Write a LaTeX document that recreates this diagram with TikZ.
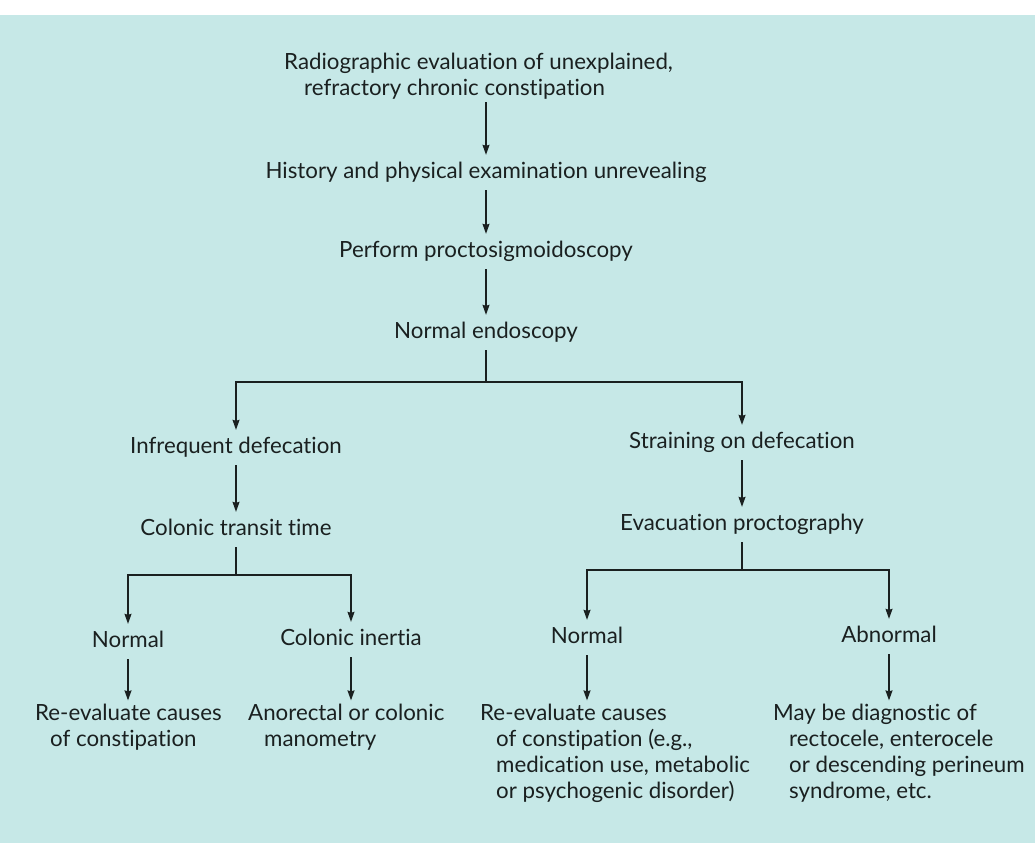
\documentclass[tikz,border=0pt]{standalone}
\usepackage{fontspec}
\setmainfont{Lato}[Ligatures=NoCommon]
\usepackage{tikz}
\usetikzlibrary{arrows.meta, positioning, calc}
\definecolor{panelcyan}{RGB}{198,232,231}
\definecolor{inkgray}{RGB}{26,32,32}
\newcommand{\flowfont}{\fontsize{22.3}{26}\selectfont}
\tikzset{
    stepbox/.style={align=center, font=\flowfont, text=inkgray, inner xsep=4pt, inner ysep=7pt, text height=16pt, text depth=5pt, anchor=base},
    listbox/.style={align=left, font=\flowfont, text=inkgray, inner xsep=0pt, inner ysep=3pt, anchor=base west},
    link/.style={line width=1.2pt, draw=inkgray},
    arrow/.style={link, -{Stealth[length=10pt, width=7pt, inset=1pt]}}
}

\begin{document}
\begin{tikzpicture}[x=1pt, y=-1pt]
    % Page: white strip on top, cyan panel below
    \fill[white] (0,0) rectangle (1035,843);
    \fill[panelcyan] (0,15) rectangle (1035,843);
    \useasboundingbox (0,0) rectangle (1035,843);

    % Top column: work-up down to endoscopy
    \node[listbox] (radio) at (284,95) {Radiographic evaluation of unexplained,\\\hspace*{20pt}refractory chronic constipation};
    \node[stepbox] (history) at (486,178) {History and physical examination unrevealing};
    \node[stepbox] (procto) at (486,257) {Perform proctosigmoidoscopy};
    \node[stepbox] (endo) at (486,338) {Normal endoscopy};

    % Middle: the two presenting complaints
    \node[stepbox] (infreq) at (236,453) {Infrequent defecation};
    \node[stepbox] (strain) at (742,448) {Straining on defecation};
    \node[stepbox] (transit) at (236,535) {Colonic transit time};
    \node[stepbox] (evac) at (742,530) {Evacuation proctography};

    % Test results
    \node[stepbox] (normA) at (128,647) {Normal};
    \node[stepbox] (inertia) at (351,645) {Colonic inertia};
    \node[stepbox] (normB) at (587,643) {Normal};
    \node[stepbox] (abnorm) at (889,642) {Abnormal};

    % Bottom row: next steps (anchored on the last line)
    \node[listbox] (reevalA) at (35,746) {Re-evaluate causes\\\hspace*{15pt}of constipation};
    \node[listbox] (mano) at (248,746) {Anorectal or colonic\\\hspace*{16pt}manometry};
    \node[listbox] (reevalB) at (480,798) {Re-evaluate causes\\\hspace*{16pt}of constipation (e.g.,\\\hspace*{16pt}medication use, metabolic\\\hspace*{16pt}or psychogenic disorder)};
    \node[listbox] (diag) at (773,798) {May be diagnostic of\\\hspace*{16pt}rectocele, enterocele\\\hspace*{16pt}or descending perineum\\\hspace*{16pt}syndrome, etc.};

    % Fork points
    \coordinate (forkA) at (486,382);
    \coordinate (forkB) at (236,575);
    \coordinate (forkC) at (742,570);

    \draw[arrow] (history.north |- radio.south) -- (history.north);
    \draw[arrow] (history.south) -- (procto.north);
    \draw[arrow] (procto.south) -- (endo.north);
    \draw[link] (endo.south) -- (forkA);
    \draw[arrow] (forkA) -| (infreq.north);
    \draw[arrow] (forkA) -| (strain.north);

    \draw[arrow] (infreq.south) -- (transit.north);
    \draw[arrow] (strain.south) -- (evac.north);
    \draw[link] (transit.south) -- (forkB);
    \draw[arrow] (forkB) -| (normA.north);
    \draw[arrow] (forkB) -| (inertia.north);
    \draw[link] (evac.south) -- (forkC);
    \draw[arrow] (forkC) -| (normB.north);
    \draw[arrow] (forkC) -| (abnorm.north);

    \draw[arrow] (normA.south) -- (normA.south |- reevalA.north);
    \draw[arrow] (inertia.south) -- (inertia.south |- mano.north);
    \draw[arrow] (normB.south) -- (normB.south |- reevalB.north);
    \draw[arrow] (abnorm.south) -- (abnorm.south |- diag.north);
\end{tikzpicture}
\end{document}
